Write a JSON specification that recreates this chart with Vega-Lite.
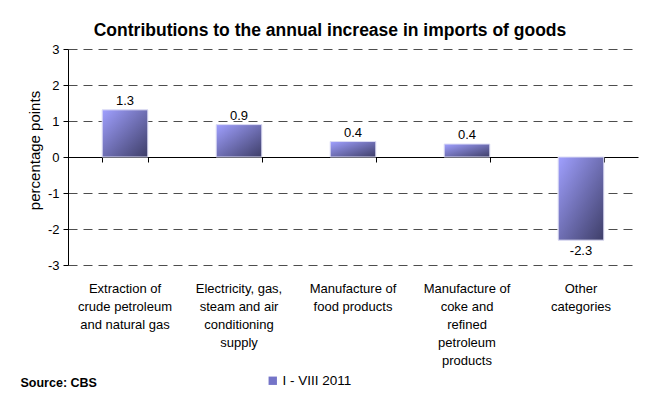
{
  "$schema": "https://vega.github.io/schema/vega-lite/v6.json",
  "autosize": "none",
  "width": 570,
  "height": 216,
  "padding": {"left": 68, "top": 49, "right": 13, "bottom": 133},
  "background": "white",
  "title": {
    "text": "Contributions to the annual increase in imports of goods",
    "font": "Liberation Sans",
    "fontSize": 17.5,
    "fontWeight": "bold",
    "color": "black",
    "anchor": "middle",
    "dx": -23,
    "offset": 4
  },
  "config": {
    "view": {"stroke": null},
    "font": "Liberation Sans",
    "locale": {"number": {"decimal": ".", "thousands": ",", "grouping": [3], "currency": ["", ""], "minus": "-"}}
  },
  "data": {
    "values": [
      {"category": "Extraction of|crude petroleum|and natural gas", "value": 1.31, "series": "I - VIII 2011"},
      {"category": "Electricity, gas,|steam and air|conditioning|supply", "value": 0.9, "series": "I - VIII 2011"},
      {"category": "Manufacture of|food products", "value": 0.43, "series": "I - VIII 2011"},
      {"category": "Manufacture of|coke and|refined|petroleum|products", "value": 0.36, "series": "I - VIII 2011"},
      {"category": "Other|categories", "value": -2.31, "series": "I - VIII 2011"}
    ]
  },
  "encoding": {
    "y": {
      "field": "value",
      "type": "quantitative",
      "scale": {"domain": [-3, 3], "nice": false},
      "axis": {
        "values": [-3, -2, -1, 0, 1, 2, 3],
        "format": "d",
        "labelOverlap": false,
        "grid": true,
        "gridColor": "#4d4d4d",
        "gridDash": [9, 6],
        "gridWidth": 1,
        "domainColor": "black",
        "tickColor": "black",
        "tickSize": 5,
        "labelFont": "Liberation Sans",
        "labelFontSize": 13,
        "labelColor": "black",
        "labelPadding": 4,
        "title": "percentage points",
        "titleFont": "Liberation Sans",
        "titleFontSize": 15,
        "titleFontWeight": "normal",
        "titleColor": "black",
        "titlePadding": 5,
        "titleY": 101
      }
    }
  },
  "resolve": {"axis": {"x": "independent"}},
  "layer": [
    {
      "mark": {
        "type": "bar",
        "stroke": "#dcdcf4",
        "strokeWidth": 1,
        "fill": {
          "gradient": "linear",
          "x1": 0, "y1": 0, "x2": 1, "y2": 1,
          "stops": [
            {"offset": 0, "color": "#a0a0ff"},
            {"offset": 1, "color": "#3e3e68"}
          ]
        }
      },
      "encoding": {
        "x": {
          "field": "category",
          "type": "nominal",
          "sort": null,
          "scale": {"paddingInner": 0.6, "paddingOuter": 0.3},
          "axis": {
            "orient": "bottom",
            "domain": false,
            "ticks": false,
            "grid": false,
            "labelAngle": 0,
            "labelExpr": "split(datum.label, '|')",
            "labelFont": "Liberation Sans",
            "labelFontSize": 13,
            "labelColor": "black",
            "labelLineHeight": 18,
            "labelBaseline": "top",
            "labelPadding": 17,
            "labelLimit": 200,
            "title": "Source: CBS",
            "titleFont": "Liberation Sans",
            "titleFontSize": 12.5,
            "titleFontWeight": "bold",
            "titleColor": "black",
            "titleAnchor": "start",
            "titleAlign": "left",
            "titleBaseline": "alphabetic",
            "titleX": -48,
            "titleY": 121
          }
        }
      }
    },
    {
      "mark": {"type": "square", "opacity": 0},
      "encoding": {
        "x": {"field": "category", "type": "nominal", "sort": null, "axis": null},
        "color": {
          "field": "series",
          "type": "nominal",
          "scale": {"range": ["#7474c8"]},
          "legend": {
            "orient": "none",
            "legendX": 198,
            "legendY": 325,
            "title": null,
            "symbolType": "square",
            "symbolSize": 70,
            "symbolOpacity": 1,
            "symbolStrokeWidth": 0,
            "labelFont": "Liberation Sans",
            "labelFontSize": 13.5,
            "labelColor": "black",
            "labelOffset": 3
          }
        }
      }
    },
    {
      "transform": [{"filter": "datum.value >= 0"}],
      "mark": {"type": "text", "font": "Liberation Sans", "fontSize": 13, "color": "black", "baseline": "alphabetic", "dy": -5},
      "encoding": {
        "x": {
          "field": "category",
          "type": "nominal",
          "sort": null,
          "axis": {
            "orient": "top",
            "offset": -108,
            "labels": false,
            "title": null,
            "domain": true,
            "domainColor": "black",
            "ticks": true,
            "tickColor": "black",
            "tickSize": -5,
            "tickBand": "extent",
            "grid": false
          }
        },
        "text": {"field": "value", "type": "quantitative", "format": ".1f"}
      }
    },
    {
      "transform": [{"filter": "datum.value < 0"}],
      "mark": {"type": "text", "font": "Liberation Sans", "fontSize": 13, "color": "black", "baseline": "top", "dy": 5},
      "encoding": {
        "x": {"field": "category", "type": "nominal", "sort": null, "axis": null},
        "text": {"field": "value", "type": "quantitative", "format": ".1f"}
      }
    }
  ]
}
